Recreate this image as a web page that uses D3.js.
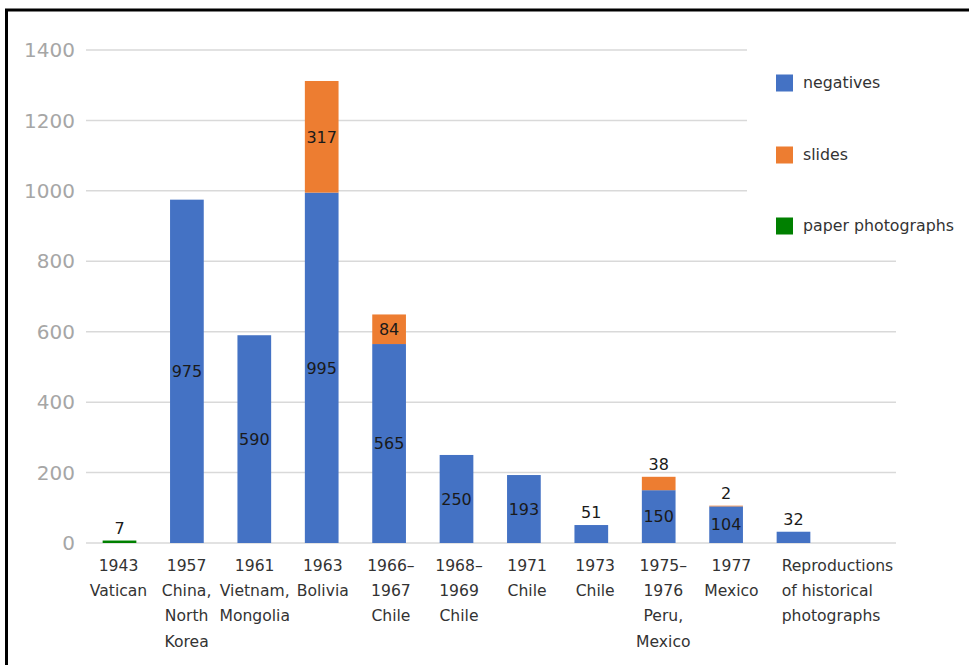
<!DOCTYPE html>
<html>
<head>
<meta charset="utf-8">
<script src="https://cdn.jsdelivr.net/npm/d3@7"></script>
<style>
  html, body { margin: 0; padding: 0; background: #fff; }
  svg { display: block; }
  text { font-family: "DejaVu Sans", Verdana, sans-serif; }
</style>
</head>
<body>
<svg id="chart" width="969" height="665"></svg>
<script>
// ---- data ----
const categories = [
  "1943\nVatican",
  "1957\nChina,\nNorth\nKorea",
  "1961\nVietnam,\nMongolia",
  "1963\nBolivia",
  "1966–\n1967\nChile",
  "1968–\n1969\nChile",
  "1971\nChile",
  "1973\nChile",
  "1975–\n1976\nPeru,\nMexico",
  "1977\nMexico",
  "Reproductions\nof historical\nphotographs"
];
const negatives = [0, 975, 590, 995, 565, 250, 193, 51, 150, 104, 32];
const slides    = [0, 0, 0, 317, 84, 0, 0, 0, 38, 2, 0];
const paper     = [7, 0, 0, 0, 0, 0, 0, 0, 0, 0, 0];
const seriesNames = ["negatives", "slides", "paper photographs"];
const seriesColors = ["#4472C4", "#ED7D31", "#008000"];
const yTicks = [0, 200, 400, 600, 800, 1000, 1200, 1400];

// ---- layout ----
const svg = d3.select("#chart");
const plotLeft = 86, plotRight = 896, plotTop = 50, plotBottom = 543;

const y = d3.scaleLinear().domain([0, 1400]).range([plotBottom, plotTop]);
const step = 67.4;
const x = d3.scaleBand().domain(categories)
  .range([85.8, 85.8 + categories.length * step])
  .paddingInner(0.5).paddingOuter(0.25);
const xLabel = d3.scalePoint().domain(categories)
  .range([118.5, 118.5 + (categories.length - 1) * 68.1]);

// frame
svg.append("rect").attr("x", 6.5).attr("y", 10).attr("width", 1000).attr("height", 700)
  .attr("fill", "none").attr("stroke", "#000").attr("stroke-width", 3);

// gridlines
svg.append("g").selectAll("line").data(yTicks).join("line")
  .attr("x1", plotLeft).attr("x2", plotRight)
  .attr("y1", d => y(d)).attr("y2", d => y(d))
  .attr("stroke", "#d9d9d9").attr("stroke-width", 1.5);

// y tick labels
svg.append("g").selectAll("text").data(yTicks).join("text")
  .attr("x", 75).attr("y", d => y(d)).attr("dy", "0.36em")
  .attr("text-anchor", "end").attr("font-size", 20).attr("fill", "#a6a6a6")
  .text(d => d);

// stacked data
const rows = categories.map((c, i) => ({
  cat: c, "negatives": negatives[i], "slides": slides[i], "paper photographs": paper[i]
}));
const stack = d3.stack().keys(seriesNames)(rows);

const gBars = svg.append("g");
stack.forEach((layer, si) => {
  gBars.append("g").attr("fill", seriesColors[si]).selectAll("rect")
    .data(layer.filter(d => d[1] - d[0] > 0)).join("rect")
    .attr("x", d => x(d.data.cat))
    .attr("width", x.bandwidth())
    .attr("y", d => y(d[1]))
    .attr("height", d => y(d[0]) - y(d[1]));
});

// data labels
const labels = [];
stack.forEach((layer, si) => {
  layer.forEach(d => {
    const v = d[1] - d[0];
    if (v <= 0) return;
    const h = y(d[0]) - y(d[1]);
    const total = seriesNames.reduce((s, k) => s + d.data[k], 0);
    if (h >= 20) {
      labels.push({ cat: d.data.cat, v, y: (y(d[0]) + y(d[1])) / 2, dy: "0.36em" });
    } else {
      labels.push({ cat: d.data.cat, v, y: y(total) - 7, dy: "0" });
    }
  });
});
svg.append("g").selectAll("text").data(labels).join("text")
  .attr("x", d => x(d.cat) + x.bandwidth() / 2)
  .attr("y", d => d.y).attr("dy", d => d.dy)
  .attr("text-anchor", "middle").attr("font-size", 16).attr("fill", "#1a1a1a")
  .text(d => d.v);

// category labels
const gCat = svg.append("g");
categories.forEach(c => {
  const lines = c.split("\n");
  const wide = lines.some(l => l.length > 10);
  const t = gCat.append("text")
    .attr("font-size", 15.6).attr("fill", "#333")
    .attr("text-anchor", wide ? "start" : "middle");
  const xx = wide ? x(c) + 5 : xLabel(c);
  lines.forEach((l, i) => {
    t.append("tspan").attr("x", xx).attr("y", 571 + i * 25.2).text(l);
  });
});

// legend
const lg = svg.append("g");
lg.append("rect").attr("x", 747).attr("y", 42).attr("width", 215).attr("height", 205).attr("fill", "#fff");
const legendY = [83, 155, 226];
seriesNames.forEach((s, i) => {
  lg.append("rect").attr("x", 776).attr("y", legendY[i] - 8.5).attr("width", 17).attr("height", 17)
    .attr("fill", seriesColors[i]);
  lg.append("text").attr("x", 803).attr("y", legendY[i]).attr("dy", "0.32em")
    .attr("font-size", 15.8).attr("fill", "#333").text(s);
});
</script>
</body>
</html>
